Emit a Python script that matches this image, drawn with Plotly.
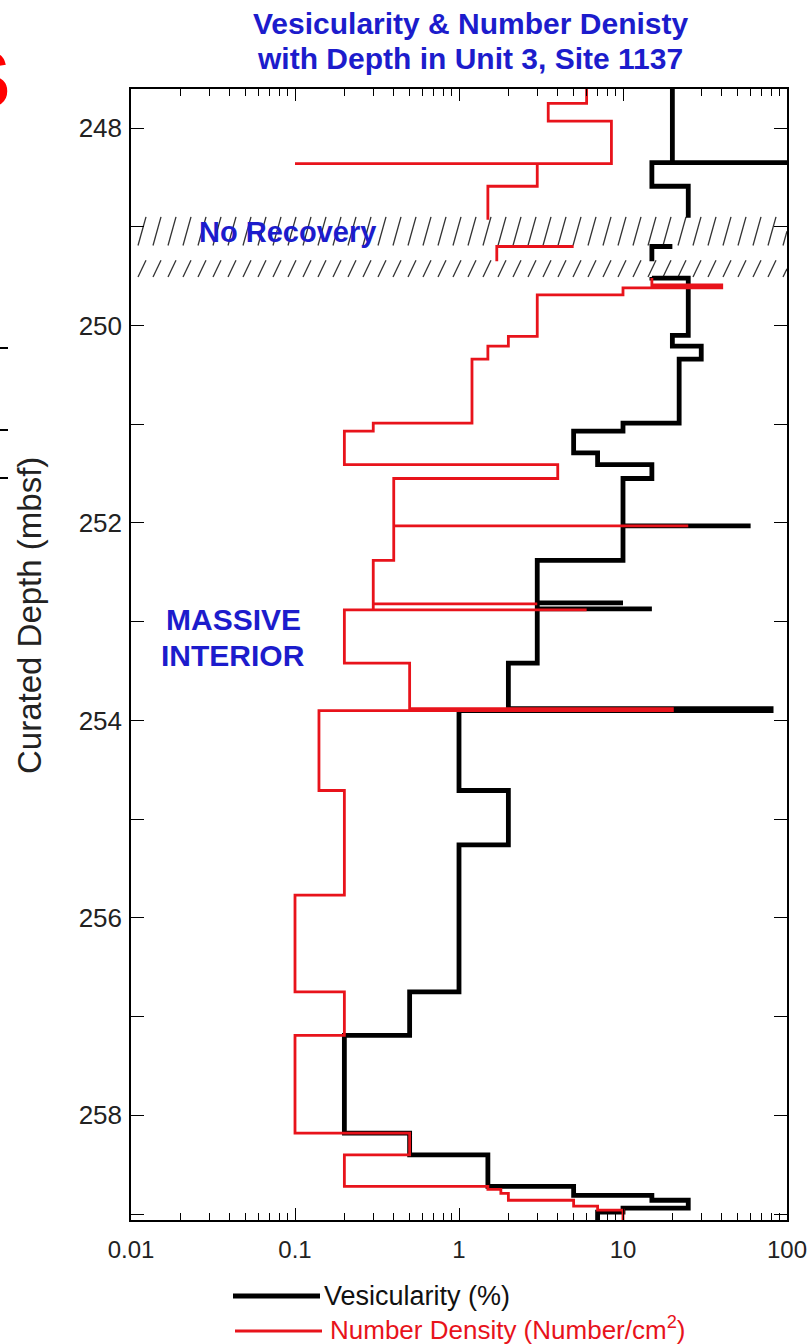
import numpy as np
import plotly.graph_objects as go

# ---- data (value applies from its depth down to the next depth; None = gap) ----
ves_value = [20, 100, 15, 25, 25, None,
             20, 15, 15, None,
             15, 25, 20, 30, 22, 10, 5, 7, 15, 10, 60, 10, 3, 10, 3, 15, 3, 2, 80, 1,
             2, 1, 0.5, 0.2, 0.5, 1.5, 5, 15, 25, 10, 7, 7]
ves_depth = [247.60, 248.35, 248.35, 248.59, 248.91, None,
             249.20, 249.20, 249.35, None,
             249.51, 249.52, 250.10, 250.21, 250.34, 250.99, 251.07, 251.29, 251.41, 251.55,
             252.03, 252.03, 252.38, 252.81, 252.81, 252.87, 252.87, 253.42, 253.88, 253.90,
             254.71, 255.26, 256.75, 257.19, 258.18, 258.40, 258.72, 258.81, 258.86, 258.94,
             258.98, 259.10]

nd_value = [6, 3.5, 8.5, 0.1, 3, 1.5, 1.5, None,
            5, 1.7, 1.7, None,
            15, 40, 10, 3, 2, 1.5, 1.2, 0.3, 0.2, 4, 0.4, 25, 0.4, 0.3, 3, 0.3, 6, 0.2,
            0.5, 20, 0.14, 0.2, 0.1, 0.2, 0.1, 0.5, 0.2, 1.5, 1.8, 2, 5, 7, 10, 10]
nd_depth = [247.60, 247.75, 247.93, 248.36, 248.36, 248.59, 248.93, None,
            249.20, 249.20, 249.35, None,
            249.52, 249.59, 249.62, 249.69, 250.11, 250.21, 250.34, 250.99, 251.07, 251.41,
            251.55, 252.03, 252.03, 252.38, 252.82, 252.82, 252.88, 252.88, 253.42, 253.88,
            253.90, 254.71, 255.77, 256.75, 257.19, 258.18, 258.40, 258.72, 258.75, 258.79,
            258.86, 258.92, 258.96, 259.10]

no_recovery_bands = [(248.90, 249.19), (249.34, 249.51)]

x_tick_vals = [0.01, 0.1, 1, 10, 100]
x_tick_text = ["0.01", "0.1", "1", "10", "100"]
y_tick_vals = list(range(248, 260))
y_tick_text = [str(v) if v % 2 == 0 else "" for v in y_tick_vals]

title_lines = ["Vesicularity & Number Denisty", "with Depth in Unit 3, Site 1137"]
y_title = "Curated Depth (mbsf)"
ves_label = "Vesicularity (%)"
nd_label = "Number Density (Number/cm<sup>2</sup>)"

BLUE = "#1c1ccc"
RED = "#e8131b"
FONT = "Liberation Sans, Arial, Helvetica, sans-serif"

# ---- layout geometry (pixels) ----
W, H = 807, 1344
L, R, T, B = 131, 20, 89, 124
PW, PH = W - L - R, H - T - B


def px(xp):
    return (xp - L) / PW


def py(yp):
    return 1 - (yp - T) / PH


fig = go.Figure()

# hatch strokes for no-recovery intervals
hx, hy = [], []
for top, bot in no_recovery_bands:
    step = 15 / (PW / 4)
    slant = 8 / (PW / 4)
    u = -2.0 - slant
    while u < 2.0:
        x0, x1 = u, u + slant
        if x1 > -2.0:
            hx += [10 ** max(x0, -2), 10 ** min(x1, 2), None]
            if x0 < -2:
                frac = (-2 - x0) / slant
                hy += [bot - frac * (bot - top), top, None]
            elif x1 > 2:
                frac = (2 - x0) / slant
                hy += [bot, bot - frac * (bot - top), None]
            else:
                hy += [bot, top, None]
        u += step
fig.add_trace(go.Scatter(x=hx, y=hy, mode="lines", line=dict(color="#333333", width=1.3),
                         hoverinfo="skip", showlegend=False))

fig.add_trace(go.Scatter(x=ves_value, y=ves_depth, mode="lines", line_shape="vh",
                         line=dict(color="black", width=4.8), name="Vesicularity (%)",
                         connectgaps=False, showlegend=False))
fig.add_trace(go.Scatter(x=nd_value, y=nd_depth, mode="lines", line_shape="vh",
                         line=dict(color=RED, width=2.8), name="Number Density (Number/cm²)",
                         connectgaps=False, showlegend=False))

fig.update_layout(
    width=W, height=H,
    margin=dict(l=L, r=R, t=T, b=B),
    paper_bgcolor="white", plot_bgcolor="white",
    font=dict(family=FONT, color="#222222"),
    xaxis=dict(type="log", range=[-2, 2], tickvals=x_tick_vals, ticktext=x_tick_text,
               ticks="inside", ticklen=12, tickwidth=1.3, tickcolor="black",
               showline=True, linecolor="black", linewidth=1.5, mirror="ticks",
               showgrid=False, zeroline=False, tickfont=dict(size=24, color="#222"),
               ticklabelstandoff=7, ticklabeloverflow="allow", automargin=False,
               minor=dict(ticks="inside", ticklen=7, tickwidth=1.2, tickcolor="black",
                          dtick="D1", showgrid=False)),
    yaxis=dict(range=[259.06, 247.605], tickvals=y_tick_vals, ticktext=y_tick_text,
               ticks="inside", ticklen=13, tickwidth=1.3, tickcolor="black",
               showline=True, linecolor="black", linewidth=1.5, mirror="ticks",
               showgrid=False, zeroline=False, tickfont=dict(size=26, color="#222"),
               ticklabelstandoff=2, ticklabeloverflow="allow", automargin=False),
)


def label(text, xp, yp, size, color, xanchor="center", angle=0):
    return dict(text=text, x=px(xp), y=py(yp), xref="paper", yref="paper",
                xanchor=xanchor, yanchor="middle", showarrow=False, textangle=angle,
                font=dict(size=size, color=color))


ann = [
    label("<b>" + title_lines[0] + "</b>", 470, 24, 30, BLUE),
    label("<b>" + title_lines[1] + "</b>", 470, 59, 30, BLUE),
    label("<b>No Recovery</b>", 287, 232, 29, BLUE),
    label("<b>MASSIVE</b>", 233, 619, 30, BLUE),
    label("<b>INTERIOR</b>", 233, 655, 30, BLUE),
    label(y_title, 29, 616, 33, "#222", angle=-90),
    label(ves_label, 322, 1296, 27, "#111", "left"),
    label(nd_label, 328, 1328, 26, RED, "left"),
    # cropped fragment at the left edge
    label("<b>S</b>", 12, 80, 80, "#ff0000", "right"),
]
fig.update_layout(annotations=ann)

shapes = [
    dict(type="line", xref="paper", yref="paper", x0=px(233), x1=px(320), y0=py(1296),
         y1=py(1296), line=dict(color="black", width=4.8)),
    dict(type="line", xref="paper", yref="paper", x0=px(235), x1=px(322), y0=py(1331),
         y1=py(1331), line=dict(color=RED, width=2.8)),
]
for yy in [348, 430, 478]:
    shapes.append(dict(type="line", xref="paper", yref="paper", x0=px(0), x1=px(8),
                       y0=py(yy), y1=py(yy), line=dict(color="black", width=2)))
fig.update_layout(shapes=shapes)

fig.write_html("out.html", config={"displayModeBar": False},
               post_script="document.body.style.margin='0px';")
